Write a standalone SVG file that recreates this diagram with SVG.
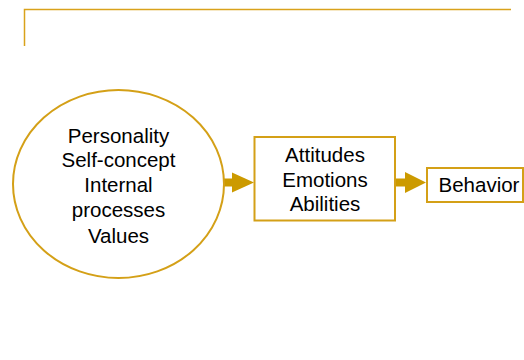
<svg xmlns="http://www.w3.org/2000/svg" width="524" height="360" viewBox="0 0 524 360">
<style>
.shape{fill:#fff;stroke:#D4A017;stroke-width:2}
.lbl{font-family:"Liberation Sans",Arial,sans-serif;font-size:20.5px;fill:#000;text-anchor:middle}
.arr{fill:#CC9A00}
</style>
<rect width="524" height="360" fill="#fff"/>
<g id="frame">
<polyline points="24.5,46 24.5,9.5 511,9.5" fill="none" stroke="#D9A21B" stroke-width="1.5"/>
</g>
<g id="connectors">
<polygon class="arr" points="223,178.5 232,178.5 232,172.5 254,182.5 232,192.5 232,186.5 223,186.5"/>
<polygon class="arr" points="395,178.5 405,178.5 405,172 426,182.5 405,193 405,186.5 395,186.5"/>
</g>
<g id="node-ellipse">
<ellipse class="shape" cx="118.5" cy="184" rx="105.5" ry="94"/>
<text class="lbl" x="118.5" y="143">Personality</text>
<text class="lbl" x="118.5" y="167">Self-concept</text>
<text class="lbl" x="118.5" y="192">Internal</text>
<text class="lbl" x="118.5" y="217">processes</text>
<text class="lbl" x="118.5" y="243">Values</text>
</g>
<g id="node-attitudes">
<rect class="shape" x="254.5" y="137" width="140.5" height="83.5"/>
<text class="lbl" x="325" y="162">Attitudes</text>
<text class="lbl" x="325" y="186.5">Emotions</text>
<text class="lbl" x="325" y="211">Abilities</text>
</g>
<g id="node-behavior">
<rect class="shape" x="427" y="168" width="96" height="34"/>
<text class="lbl" x="479" y="192">Behavior</text>
</g>
</svg>
